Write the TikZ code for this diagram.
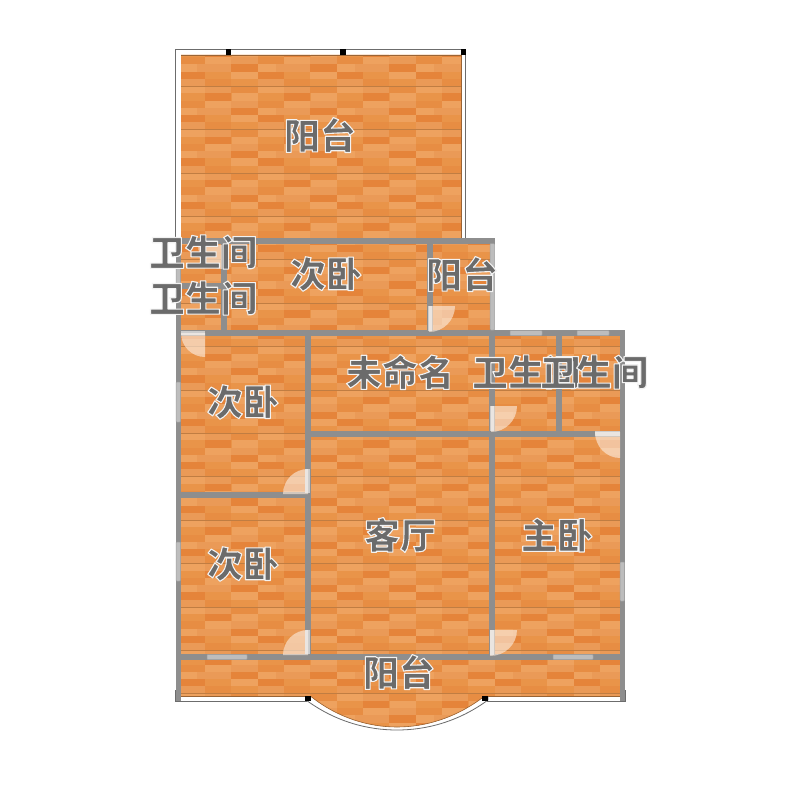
\documentclass[tikz,border=0pt]{standalone}
\usepackage{fontspec}
\newfontfamily\cjk{Noto Sans CJK SC}
\definecolor{wood}{HTML}{E99449}
\definecolor{woodL}{HTML}{EEA25F}
\definecolor{woodD}{HTML}{E5843A}
\definecolor{woodM}{HTML}{E78D43}
\definecolor{woodS}{HTML}{EA9A57}
\definecolor{woodLine}{HTML}{C07D42}
\definecolor{wallc}{HTML}{8E8E8E}
\definecolor{winc}{HTML}{BDBDBD}
\definecolor{lbl}{HTML}{6B6B6B}
\definecolor{doorc}{HTML}{FBEBDD}
\newcommand{\pl}[4]{\fill[#4] (#1,#2) rectangle ++(#3,7.25);}
\newcommand{\halo}[1]{\special{pdf:code q 1 j 2 Tr 1.1 w 0.95 0.95 0.95 RG}#1\special{pdf:code Q}}
% quarter-circle door: hinge corner, signed reach in x and in y
\newcommand{\doorq}[4]{\fill[doorleaf] (#1,#2) -- (#1+#3,#2) .. controls (#1+#3,#2+.5523*#4) and (#1+.5523*#3,#2+#4) .. (#1,#2+#4) -- cycle;}
\tikzset{
  x=1pt,y=-1pt,
  wall/.style={draw=wallc,line width=5.6pt,line cap=rect},
  winbar/.style={fill=winc,draw=wallc!85,line width=.5pt,rounded corners=.8pt},
  rail/.style={fill=white,draw=gray!85!black,line width=.8pt},
  post/.style={fill=black},
  doorleaf/.style={fill=doorc,fill opacity=.62},
  doorbar/.style={fill=white,fill opacity=.55},
  roomlabel/.style={font=\cjk\bfseries\fontsize{36}{36}\selectfont,text=lbl,inner sep=0pt}
}
\begin{document}
\begin{tikzpicture}
\useasboundingbox (0,0) rectangle (800,800);
\fill[white] (0,0) rectangle (800,800);
% railings
\path[rail] (175.5,49.5) -- (465.5,49.5) -- (465.5,242) -- (175.5,242) -- cycle;
\path[rail] (175.5,690) -- (625,690) -- (625,701) -- (487,701) -- (487,690) -- (306,690) -- (306,701) -- (175.5,701) -- cycle;
\path[rail] (306,700) .. controls (336,722) and (368,730) .. (397,730) .. controls (426,730) and (458,722) .. (488,700) -- (488,690) -- (306,690) -- cycle;
% floor
\begin{scope}
\clip (181,55) -- (461,55) -- (461,240) -- (492,240) -- (492,332) -- (621,332) -- (621,696.5) -- (484,696.5)
  .. controls (456,718) and (425,727) .. (397,727) .. controls (369,727) and (338,718) .. (311,696.5) -- (181,696.5) -- cycle;
\fill[wood] (170,40) rectangle (630,740);
\foreach \i in {-1,...,5}{
  \foreach \j in {-1,...,15}{
    \begin{scope}[shift={(205+79*\i,86+43.4*\j)}]
      \pl{0}{0}{26}{woodS}\pl{26}{0}{27}{woodM}\pl{53}{0}{26}{woodL}
      \pl{0}{7.25}{26}{woodD}\pl{27}{7.25}{26}{woodL}\pl{53}{7.25}{26}{wood}
      \pl{0}{14.5}{26}{woodL}\pl{26}{14.5}{27}{woodS}\pl{53}{14.5}{26}{woodM}
      \pl{-8}{21.75}{34}{woodS}\pl{26}{21.75}{27}{woodD}\pl{53}{21.75}{18}{woodL}
      \pl{0}{29}{26}{wood}\pl{26}{29}{27}{woodL}\pl{53}{29}{26}{woodD}
      \pl{0}{36.25}{26}{woodM}\pl{26}{36.25}{27}{wood}\pl{53}{36.25}{26}{woodS}
      \draw[woodLine,line width=.3pt] (0,0) -- (79,0);
    \end{scope}
  }
}
\end{scope}
\draw[woodLine!80!black,line width=.6pt] (181,55) -- (461,55) -- (461,240);
\draw[woodLine!80!black,line width=.6pt] (181,696.5) -- (306,696.5) (486,696.5) -- (621,696.5);
\draw[woodLine!80!black,line width=.6pt] (311,696.5) .. controls (338,718) and (369,727) .. (397,727) .. controls (425,727) and (456,718) .. (484,696.5);
% posts
\fill[post] (225.5,49.5) rectangle (231,55);
\fill[post] (340,49.5) rectangle (345.5,55);
\fill[post] (460.5,49.5) rectangle (466,55);
\fill[post] (305,696) rectangle (310.5,701);
\fill[post] (482,696) rectangle (487.5,701);
% walls
\draw[wall] (178.5,241) -- (492,241);
\draw[wall] (178.5,241) -- (178.5,698);
\draw[wall] (622.5,333) -- (622.5,698);
\draw[wall] (178.5,286) -- (224,286);
\draw[wall] (224,241) -- (224,333);
\draw[wall] (430,241) -- (430,333);
\draw[wall] (492,333) -- (492,656);
\draw[wall] (178.5,333) -- (622.5,333);
\draw[wall] (308,333) -- (308,657);
\draw[wall] (559,333) -- (559,434);
\draw[wall] (308,434) -- (622.5,434);
\draw[wall] (178.5,495) -- (308,495);
\draw[wall] (178.5,657) -- (622.5,657);
% windows
\path[winbar] (490,243.5) rectangle (494.5,330);
\path[winbar] (510,330.5) rectangle (542,335.5);
\path[winbar] (577,330.5) rectangle (609,335.5);
\path[winbar] (176,268) rectangle (180.5,284);
\path[winbar] (176,382) rectangle (180.5,422);
\path[winbar] (176,542) rectangle (180.5,581);
\path[winbar] (620,562) rectangle (624.5,601);
\path[winbar] (207,654.5) rectangle (247,659.5);
\path[winbar] (553,654.5) rectangle (593,659.5);
% doors
\doorq{222}{245}{-24}{24}
\doorq{205}{333}{-24}{24}
\fill[doorbar] (181,331) rectangle (205,335);
\doorq{429}{306}{26}{26}
\fill[doorbar] (428,306) rectangle (432,331);
\doorq{491}{406}{26}{26}
\fill[doorbar] (490,406) rectangle (494,431);
\doorq{620}{432}{-25}{26}
\fill[doorbar] (595,431) rectangle (620,436);
\doorq{308}{494}{-25}{-25}
\fill[doorbar] (305,469) rectangle (309.5,493);
\doorq{308}{655}{-25}{-25}
\fill[doorbar] (305,630) rectangle (309.5,654);
\doorq{490}{630}{27}{26}
\fill[doorbar] (490,630) rectangle (494,655);
% labels
\node[roomlabel] (balconyA) at (320,135) {\halo{阳台}};
\node[roomlabel] (bathA) at (203,252) {\halo{卫生间}};
\node[roomlabel] (bathB) at (203,298) {\halo{卫生间}};
\node[roomlabel] (bedA) at (326,274) {\halo{次卧}};
\node[roomlabel] (balconyB) at (462,274) {\halo{阳台}};
\node[roomlabel] (unnamed) at (400,372) {\halo{未命名}};
\node[roomlabel] (bathC) at (526,372) {\halo{卫生间}};
\node[roomlabel] (bathD) at (594,372) {\halo{卫生间}};
\node[roomlabel] (bedB) at (243,402) {\halo{次卧}};
\node[roomlabel] (bedC) at (243,564) {\halo{次卧}};
\node[roomlabel] (living) at (400,535) {\halo{客厅}};
\node[roomlabel] (master) at (557,535) {\halo{主卧}};
\node[roomlabel] (balconyC) at (399,672) {\halo{阳台}};
\end{tikzpicture}
\end{document}
